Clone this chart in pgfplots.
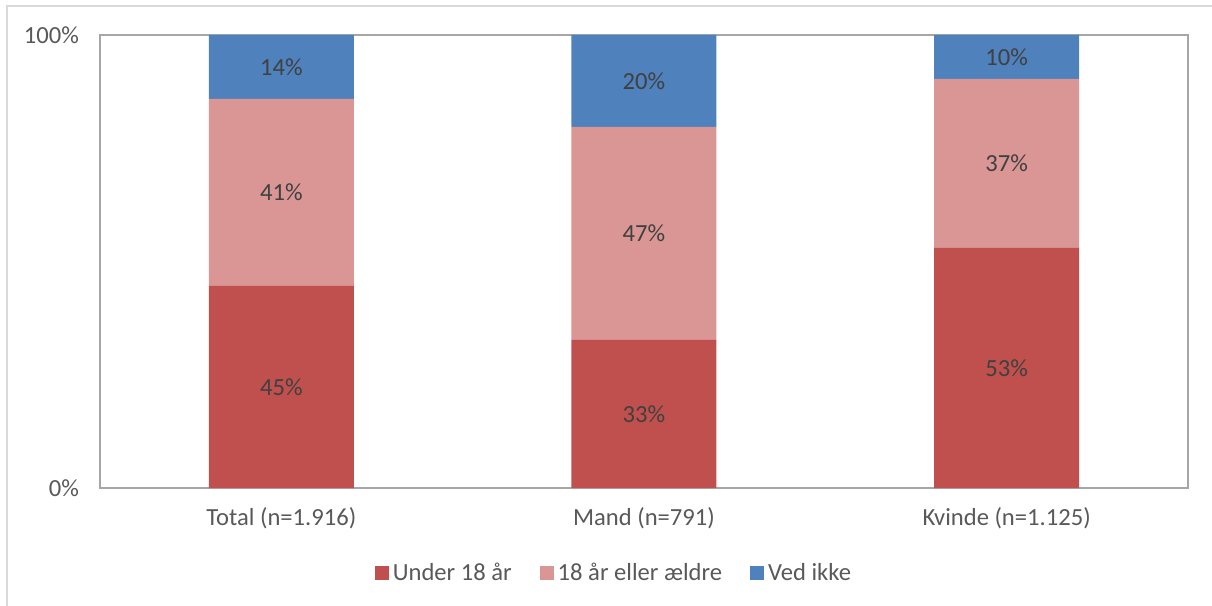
\documentclass[border=0pt]{standalone}
\usepackage{fontspec}
\setmainfont{Carlito}
\usepackage{pgfplots}
\pgfplotsset{compat=1.18}

\definecolor{cUnder}{HTML}{C0504D}
\definecolor{cOver}{HTML}{D99694}
\definecolor{cVed}{HTML}{4F81BD}
\definecolor{txt}{HTML}{595959}
\definecolor{lbl}{HTML}{404040}

\begin{document}
\begin{tikzpicture}
\begin{axis}[
  scale only axis,
  width=544pt, height=226.5pt,
  ybar stacked,
  bar width=72.5pt,
  xmin=-0.5, xmax=2.5,
  ymin=0, ymax=100,
  xtick={0,1,2},
  xticklabels={Total (n=1.916),Mand (n=791),Kvinde (n=1.125)},
  ytick={0,100},
  yticklabels={0\%,100\%},
  major tick length=0pt,
  axis line style={black!35, line width=0.8pt},
  tick label style={font=\fontsize{12.3}{14}\selectfont, text=txt},
  xticklabel style={yshift=-6pt},
  yticklabel style={xshift=-7pt},
  /pgf/number format/assume math mode=true,
  nodes near coords={\pgfmathprintnumber[fixed,precision=0]{\pgfplotspointmeta}\%},
  every node near coord/.style={
    anchor=center,
    font=\fontsize{12.3}{14}\selectfont, text=lbl
  },
  legend style={
    at={(0.4733,-0.1876)}, anchor=center,
    draw=none, legend columns=-1,
    font=\fontsize{12.3}{14}\selectfont, text=txt,
    /tikz/every even column/.append style={column sep=12pt}
  },
  legend image code/.code={
    \fill[#1] (0pt,-3.5pt) rectangle (7pt,3.5pt);
  },
  legend cell align=left,
]
\addplot[fill=cUnder, draw=none] coordinates {(0,44.6) (1,32.7) (2,53.0)};
\addplot[fill=cOver, draw=none] coordinates {(0,41.3) (1,47.0) (2,37.3)};
\addplot[fill=cVed, draw=none] coordinates {(0,14.1) (1,20.3) (2,9.7)};
\legend{Under 18 år,18 år eller ældre,Ved ikke}
\end{axis}
\draw[black!15, line width=1pt] (-46.5pt,-59pt) -- (-46.5pt,241pt) -- (556pt,241pt);
\pgfresetboundingbox
\path (-50pt,-59pt) rectangle (556pt,244pt);
\end{tikzpicture}
\end{document}
